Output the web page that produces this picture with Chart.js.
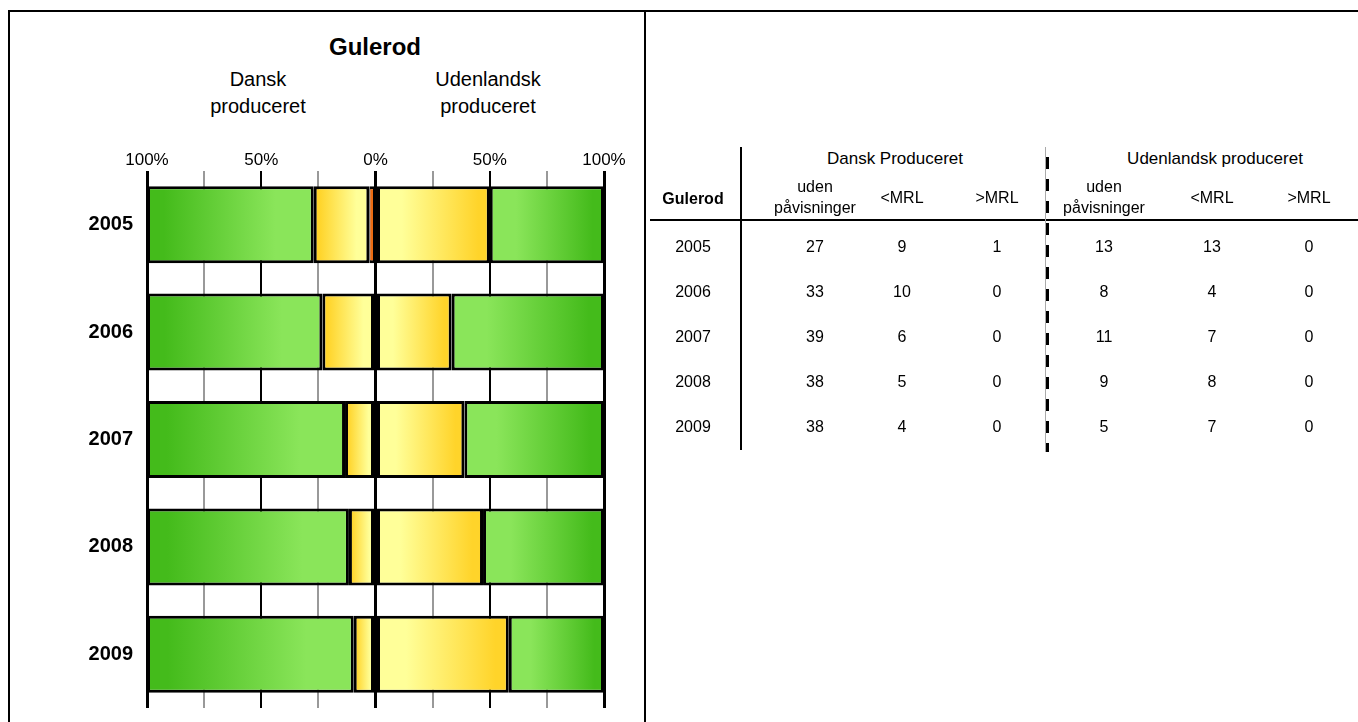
<!DOCTYPE html>
<html>
<head>
<meta charset="utf-8">
<script src="https://cdn.jsdelivr.net/npm/chart.js@4.4.1/dist/chart.umd.min.js"></script>
<style>
  html, body { margin:0; padding:0; background:#fff; width:1358px; height:722px; overflow:hidden; }
  body { position:relative; font-family:"Liberation Sans", Arial, sans-serif; color:#000; }
  .abs { position:absolute; white-space:nowrap; }
  .c { text-align:center; }
  #frame { position:absolute; left:8px; top:10px; width:1400px; height:800px; border-top:2px solid #000; border-left:2px solid #000; }
  #divider { position:absolute; left:644px; top:10px; width:2px; height:712px; background:#000; }
  #chartWrap { position:absolute; left:8px; top:140px; }
  .t { position:absolute; width:120px; height:20px; line-height:20px; text-align:center; font-size:16px; white-space:nowrap; }
</style>
</head>
<body>
<div id="frame"></div>
<div id="divider"></div>

<div class="abs c" style="left:275px; top:32px; width:200px; font-size:24px; font-weight:bold; line-height:30px;">Gulerod</div>
<div class="abs c" style="left:168px; top:66px; width:180px; font-size:20px; line-height:27px;">Dansk<br>produceret</div>
<div class="abs c" style="left:398px; top:66px; width:180px; font-size:20px; line-height:27px;">Udenlandsk<br>produceret</div>

<div id="chartWrap"><canvas id="c" width="636" height="582"></canvas></div>

<div id="table"></div>

<script>
// ---- data ----
const years = ['2005', '2006', '2007', '2008', '2009'];
const dkUden  = [27, 33, 39, 38, 38];
const dkUnder = [9, 10, 6, 5, 4];
const dkOver  = [1, 0, 0, 0, 0];
const foUden  = [13, 8, 11, 9, 5];
const foUnder = [13, 4, 7, 8, 7];
const foOver  = [0, 0, 0, 0, 0];
const axisTicks = [-100, -75, -50, -25, 0, 25, 50, 75, 100];
const axisTickLabels = ['100%', '', '50%', '', '0%', '', '50%', '', '100%'];
const tableTitle = 'Gulerod';
const groupHeaders = ['Dansk Produceret', 'Udenlandsk produceret'];
const colHeaders = ['uden<br>påvisninger', '&lt;MRL', '&gt;MRL'];

// ---- shares (percent of each year's total, per origin) ----
function shares(a, b, c, sign) {
  return [a, b, c].map(arr => arr.map((v, i) => sign * v / (a[i] + b[i] + c[i]) * 100));
}
const [dkUdenP, dkUnderP, dkOverP] = shares(dkUden, dkUnder, dkOver, -1);
const [foUdenP, foUnderP, foOverP] = shares(foUden, foUnder, foOver, 1);

// ---- colours ----
const GREEN_DARK = '#44bb1b', GREEN_LIGHT = '#8ae55a';
const GOLD = '#ffd42a', PALE = '#ffff99';
const RED = '#ec6c12';

function grad(outerCol, innerCol) {
  return function (ctx) {
    if (ctx.type !== 'data') return innerCol;
    const chart = ctx.chart;
    const xs = chart.scales.x;
    if (!chart.chartArea || !xs) return innerCol;
    const dsets = chart.data.datasets;
    const me = dsets[ctx.datasetIndex];
    const i = ctx.dataIndex;
    let start = 0;
    for (let d = 0; d < ctx.datasetIndex; d++) {
      if (dsets[d].side === me.side) start += dsets[d].data[i];
    }
    const end = start + me.data[i];
    const pOuter = xs.getPixelForValue(end), pInner = xs.getPixelForValue(start);
    if (!isFinite(pOuter) || !isFinite(pInner) || pOuter === pInner) return innerCol;
    const g = chart.ctx.createLinearGradient(pOuter, 0, pInner, 0);
    g.addColorStop(0, outerCol);
    g.addColorStop(0.1, outerCol);
    g.addColorStop(0.77, innerCol);
    g.addColorStop(1, innerCol);
    return g;
  };
}

const common = { borderColor: '#000', borderWidth: 3, borderSkipped: false, barPercentage: 0.717, categoryPercentage: 1.0 };

const chart = new Chart(document.getElementById('c'), {
  type: 'bar',
  data: {
    labels: years,
    datasets: [
      Object.assign({ label: 'Dansk >MRL', side: 'dk', data: dkOverP, backgroundColor: RED }, common, { borderWidth: { left: 1, right: 1, top: 3, bottom: 3 } }),
      Object.assign({ label: 'Dansk <MRL', side: 'dk', data: dkUnderP, backgroundColor: grad(GOLD, PALE) }, common),
      Object.assign({ label: 'Dansk uden påvisninger', side: 'dk', data: dkUdenP, backgroundColor: grad(GREEN_DARK, GREEN_LIGHT) }, common),
      Object.assign({ label: 'Udenlandsk >MRL', side: 'fo', data: foOverP, backgroundColor: RED }, common, { borderWidth: { left: 1, right: 1, top: 3, bottom: 3 } }),
      Object.assign({ label: 'Udenlandsk <MRL', side: 'fo', data: foUnderP, backgroundColor: grad(GOLD, PALE) }, common),
      Object.assign({ label: 'Udenlandsk uden påvisninger', side: 'fo', data: foUdenP, backgroundColor: grad(GREEN_DARK, GREEN_LIGHT) }, common)
    ]
  },
  options: {
    indexAxis: 'y',
    responsive: false,
    animation: false,
    devicePixelRatio: 1,
    layout: { autoPadding: false, padding: { left: 0, right: 40, top: 0, bottom: 14 } },
    plugins: { legend: { display: false }, tooltip: { enabled: false }, title: { display: false } },
    scales: {
      x: {
        type: 'linear', position: 'top', stacked: true, min: -100, max: 100,
        afterBuildTicks: s => { s.ticks = axisTicks.map(v => ({ value: v })); },
        afterFit: s => { s.height = 31; s.paddingLeft = 0; s.paddingRight = 0; },
        ticks: {
          autoSkip: false, maxRotation: 0, padding: 0, color: '#000',
          font: { family: '"Liberation Sans", Arial, sans-serif', size: 17 },
          callback: (v) => { const k = axisTicks.indexOf(v); return k >= 0 ? axisTickLabels[k] : ''; }
        },
        grid: {
          drawTicks: false, tickLength: 0,
          color: c => (c.tick && Math.abs(c.tick.value) % 50 === 0) ? '#000' : '#999',
          lineWidth: c => (c.tick && c.tick.value === 0) ? 3 : (c.tick && Math.abs(c.tick.value) === 100 ? 3 : 2)
        },
        border: { display: false }
      },
      y: {
        type: 'category', stacked: true,
        afterFit: s => { s.width = 139; s.paddingTop = 0; s.paddingBottom = 0; },
        ticks: { color: '#000', padding: 6, font: { family: '"Liberation Sans", Arial, sans-serif', size: 20, weight: 'bold' } },
        grid: { display: false },
        border: { display: false }
      }
    }
  }
});

// ---- table (real HTML text) ----
const tbl = document.getElementById('table');
const colX = [693, 815, 902, 997, 1104, 1212, 1309];
const groupX = [895, 1215];
const rowY = [247, 292, 337, 382, 427];
function cell(html, cx, cy, extra) {
  const d = document.createElement('div');
  d.className = 't';
  d.style.left = (cx - 60) + 'px';
  d.style.top = (cy - 10) + 'px';
  if (extra) Object.assign(d.style, extra);
  d.innerHTML = html;
  tbl.appendChild(d);
}
cell(tableTitle, colX[0], 199, { fontWeight: 'bold' });
groupHeaders.forEach((h, k) => cell(h, groupX[k], 159, { width: '240px', left: (groupX[k] - 120) + 'px', fontSize: '17px' }));
[0, 1].forEach(g => {
  colHeaders.forEach((h, k) => {
    const cx = colX[1 + g * 3 + k];
    if (k === 0) cell(h, cx, 186, { lineHeight: '21px', height: '42px', top: '176px' });
    else cell(h, cx, 198);
  });
});
const rows = years.map((y, i) => [y, dkUden[i], dkUnder[i], dkOver[i], foUden[i], foUnder[i], foOver[i]]);
rows.forEach((r, i) => r.forEach((v, k) => cell(String(v), colX[k], rowY[i])));

// table rules
function rule(style) { const d = document.createElement('div'); d.style.position = 'absolute'; Object.assign(d.style, style); tbl.appendChild(d); }
rule({ left: '650px', top: '219px', width: '708px', height: '2px', background: '#000' });
rule({ left: '740px', top: '147px', width: '2px', height: '303px', background: '#000' });
rule({ left: '1045px', top: '147px', width: '1px', height: '305px', background: '#aaa' });
rule({ left: '1046px', top: '147px', width: '3px', height: '305px',
       background: 'repeating-linear-gradient(to bottom, transparent 0px, transparent 10px, #000 10px, #000 22px)' });
</script>
</body>
</html>
